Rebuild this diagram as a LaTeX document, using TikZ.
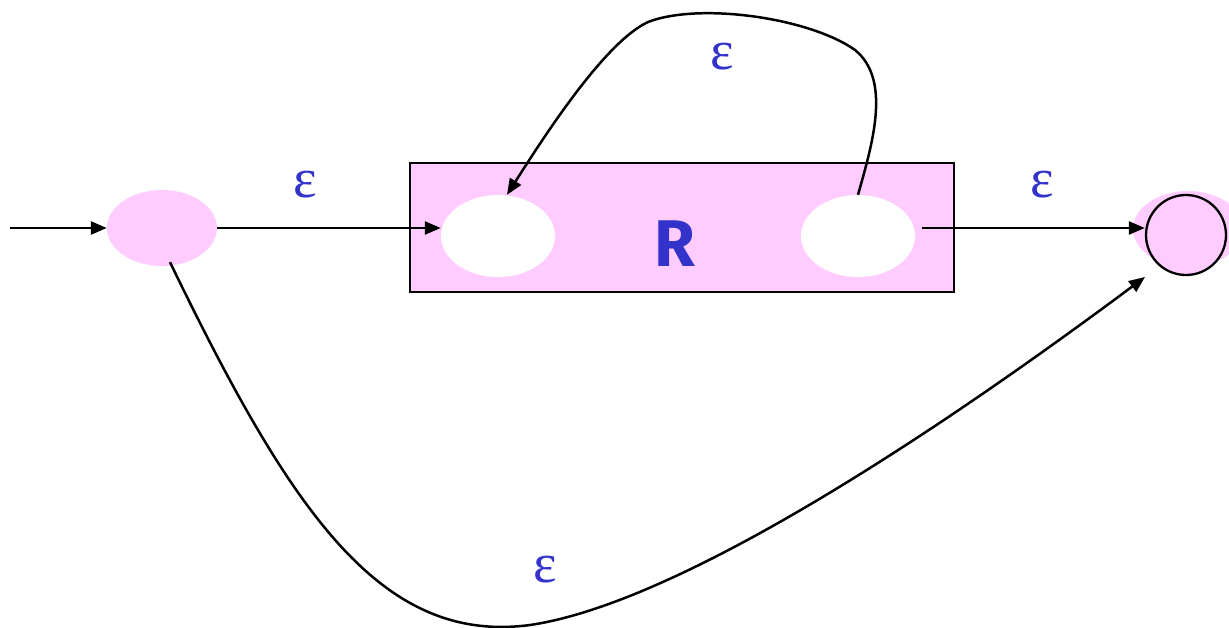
\documentclass[tikz,border=0pt]{standalone}
\usepackage{fontspec}
\setsansfont{Fira Sans}
\newfontfamily\epsfont{Liberation Serif}
\usetikzlibrary{arrows.meta,shapes.geometric}
\definecolor{pinkfill}{HTML}{FFCCFF}
\definecolor{lblblue}{HTML}{3333CC}
\tikzset{
  conn/.style={line width=2.5pt,-{Triangle[length=16pt,width=13pt]}},
  pinkstate/.style={ellipse,fill=pinkfill,minimum width=110pt,minimum height=76pt,inner sep=0pt},
  whitestate/.style={ellipse,fill=white,minimum width=114pt,minimum height=82pt,inner sep=0pt},
  eps/.style={text=lblblue,font=\epsfont\fontsize{56}{60}\selectfont,inner sep=0pt},
}
\begin{document}
\begin{tikzpicture}[x=1pt,y=-1pt]
\useasboundingbox (0,0) rectangle (1229,627);
\node[draw,line width=2.3pt,fill=pinkfill,minimum width=544pt,minimum height=129pt,inner sep=0pt] (box) at (682,227.5) {};
\node[pinkstate] (start) at (162,228) {};
\node[whitestate] (left) at (498,236) {};
\node[whitestate] (right) at (858,236) {};
\node[pinkstate] (finalbg) at (1188,229) {};
\node[circle,draw,line width=2.3pt,fill=pinkfill,minimum size=80pt,inner sep=0pt] (final) at (1186,235) {};
\node[text=lblblue,font=\sffamily\bfseries\fontsize{66}{70}\selectfont,inner sep=0pt] (R) at (675,244) {R};
\coordinate (init) at (10,228);
\draw[conn] (init) -- (start.west);
\draw[conn] (start.east) -- (start.east -| left.west);
\coordinate (rout) at (922,228);
\draw[conn] (rout) -- (rout -| final.west);
\draw[conn] (right.north) .. controls (872,145) and (892,80) .. (855,50)
   .. controls (810,18) and (700,2) .. (648,22)
   .. controls (605,42) and (545,135) .. ([xshift=9pt]left.north);
\coordinate (bstart) at ([xshift=8pt,yshift=4pt]start.south);
\coordinate (bend) at ([shift={(-41,42)}]final.center);
\draw[conn] (bstart) .. controls (290,510) and (380,645) .. (530,625)
   .. controls (700,600) and (1000,385) .. (bend);
\node[eps] (e1) at (305,185) {ε};
\node[eps] (e2) at (722,57) {ε};
\node[eps] (e3) at (1042,185) {ε};
\node[eps] (e4) at (545,570) {ε};
\end{tikzpicture}
\end{document}
